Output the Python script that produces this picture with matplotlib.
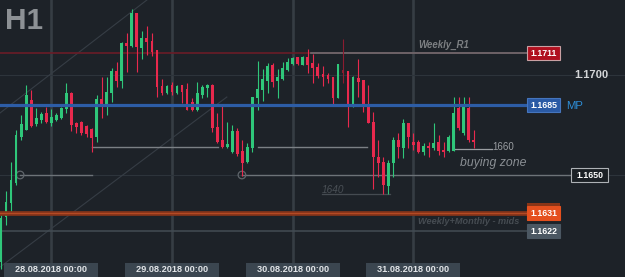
import matplotlib
matplotlib.use('Agg')
import matplotlib.pyplot as plt
import matplotlib.transforms as mtransforms
from matplotlib.patches import Rectangle

plt.rcParams['font.family'] = ['Liberation Sans', 'DejaVu Sans']

### Données (EURUSD H1)
opens = [1.16065, 1.16290, 1.16360, 1.16460, 1.16690, 1.16725, 1.16875, 1.16755, 1.16775, 1.16810,
         1.16760, 1.16775, 1.16785, 1.16830, 1.16910, 1.16760, 1.16765, 1.16745, 1.16730, 1.16690,
         1.16880, 1.16850, 1.16910, 1.17020, 1.16970, 1.17160, 1.17145, 1.17310, 1.17135, 1.17185,
         1.17170, 1.17125, 1.16945, 1.16910, 1.16950, 1.16910, 1.16950, 1.16930, 1.16865, 1.16825,
         1.16900, 1.16935, 1.16950, 1.16740, 1.16675, 1.16640, 1.16615, 1.16720, 1.16620, 1.16565,
         1.16635, 1.16885, 1.16925, 1.16970, 1.17050, 1.16970, 1.16980, 1.17025, 1.17055, 1.17090,
         1.17050, 1.17090, 1.17060, 1.17040, 1.17005, 1.17000, 1.16990, 1.16885, 1.17025, 1.17020,
         1.16855, 1.16985, 1.16975, 1.16845, 1.16765, 1.16590, 1.16565, 1.16445, 1.16560, 1.16675,
         1.16635, 1.16760, 1.16665, 1.16665, 1.16615, 1.16645, 1.16635, 1.16665, 1.16625, 1.16620,
         1.16620, 1.16835, 1.16710, 1.16835, 1.16675]
highs = [1.16300, 1.16420, 1.16565, 1.16725, 1.16800, 1.16950, 1.16925, 1.16835, 1.16815, 1.16840,
         1.16830, 1.16810, 1.16840, 1.16960, 1.16915, 1.16765, 1.16770, 1.16750, 1.16735, 1.16900,
         1.16990, 1.16990, 1.17035, 1.17065, 1.17165, 1.17210, 1.17330, 1.17310, 1.17220, 1.17245,
         1.17210, 1.17125, 1.16980, 1.16950, 1.16965, 1.16950, 1.16950, 1.16960, 1.16885, 1.16965,
         1.16950, 1.16955, 1.16955, 1.16810, 1.16855, 1.16765, 1.16750, 1.16735, 1.16675, 1.16660,
         1.16890, 1.17070, 1.17030, 1.17060, 1.17060, 1.17030, 1.17065, 1.17085, 1.17090, 1.17090,
         1.17095, 1.17130, 1.17105, 1.17060, 1.17045, 1.17010, 1.16990, 1.17055, 1.17180, 1.17020,
         1.16995, 1.17080, 1.16975, 1.16950, 1.16815, 1.16675, 1.16590, 1.16575, 1.16690, 1.16710,
         1.16780, 1.16760, 1.16710, 1.16675, 1.16660, 1.16665, 1.16760, 1.16700, 1.16665, 1.16700,
         1.16890, 1.16890, 1.16890, 1.16890, 1.16725]
lows = [1.16030, 1.16250, 1.16315, 1.16450, 1.16675, 1.16725, 1.16740, 1.16745, 1.16760, 1.16760,
        1.16745, 1.16770, 1.16780, 1.16810, 1.16720, 1.16710, 1.16700, 1.16690, 1.16615, 1.16665,
        1.16785, 1.16800, 1.16865, 1.16940, 1.16935, 1.17015, 1.17140, 1.17015, 1.17080, 1.17100,
        1.17095, 1.16890, 1.16900, 1.16905, 1.16900, 1.16905, 1.16860, 1.16825, 1.16820, 1.16820,
        1.16885, 1.16890, 1.16715, 1.16660, 1.16635, 1.16635, 1.16610, 1.16595, 1.16495, 1.16560,
        1.16615, 1.16825, 1.16870, 1.16910, 1.16940, 1.16885, 1.16975, 1.17020, 1.17050, 1.17050,
        1.17050, 1.17010, 1.16960, 1.16985, 1.16945, 1.16960, 1.16850, 1.16885, 1.16960, 1.16740,
        1.16840, 1.16890, 1.16815, 1.16760, 1.16430, 1.16490, 1.16405, 1.16405, 1.16490, 1.16585,
        1.16585, 1.16635, 1.16625, 1.16610, 1.16600, 1.16590, 1.16625, 1.16600, 1.16590, 1.16615,
        1.16620, 1.16725, 1.16700, 1.16665, 1.16635]
closes = [1.16285, 1.16365, 1.16475, 1.16700, 1.16755, 1.16900, 1.16745, 1.16785, 1.16805, 1.16765,
          1.16790, 1.16800, 1.16835, 1.16910, 1.16750, 1.16740, 1.16710, 1.16705, 1.16685, 1.16880,
          1.16845, 1.16915, 1.17020, 1.16970, 1.17160, 1.17145, 1.17310, 1.17140, 1.17185, 1.17165,
          1.17115, 1.16940, 1.16910, 1.16945, 1.16915, 1.16945, 1.16915, 1.16825, 1.16825, 1.16910,
          1.16940, 1.16950, 1.16735, 1.16665, 1.16640, 1.16655, 1.16720, 1.16605, 1.16560, 1.16640,
          1.16890, 1.16930, 1.16980, 1.17045, 1.16965, 1.16990, 1.17035, 1.17065, 1.17085, 1.17055,
          1.17090, 1.17050, 1.17035, 1.16995, 1.16990, 1.16980, 1.16885, 1.17055, 1.17010, 1.16855,
          1.16990, 1.16965, 1.16850, 1.16760, 1.16590, 1.16560, 1.16450, 1.16560, 1.16675, 1.16640,
          1.16760, 1.16690, 1.16650, 1.16615, 1.16645, 1.16635, 1.16660, 1.16620, 1.16615, 1.16690,
          1.16810, 1.16735, 1.16840, 1.16675, 1.16665]
dim_candles = [68]

# Axe du temps (index de bougie) et niveaux
date_labels = ['28.08.2018 00:00', '29.08.2018 00:00', '30.08.2018 00:00', '31.08.2018 00:00']
date_idx = [10, 34, 58, 82]

weekly_r1 = 1.1711
mp = 1.1685
level_1650 = 1.1650
mids = 1.1631
level_1622 = 1.1622
grid_levels = [1.1700, 1.1650]
axis_label = 1.1700

# Lignes tracées à la main: (index début, index fin, prix)
seg_1650 = [(3.8, 18.1), (47.9, 113.3)]
seg_mid = [(18.1, 43.1, 1.16638), (51.1, 72.8, 1.16640)]
seg_1660 = (90.3, 97.6, 1.16630)
seg_1640 = (63.8, 77.3, 1.16405)
circles_idx = [3.8, 47.9]
trend1 = ([-0.2, 44.9], [1.16040, 1.16890])
trend2 = ([-0.2, 29.0], [1.16810, 1.17375])

#############################################################
##################### Figure ################################
#############################################################
W, H = 625, 277
bg = '#1d2228'
green = '#2fc77a'
red = '#e8294d'

fig = plt.figure(figsize=(W / 100, H / 100), dpi=100, facecolor=bg)
ax = fig.add_axes([0, 0, 1, 1])
ax.set_xlim(-0.2, 124.06)
ax.set_ylim(1.15990, 1.17375)
ax.axis('off')

tr_y = mtransforms.blended_transform_factory(ax.transAxes, ax.transData)
tr_x = mtransforms.blended_transform_factory(ax.transData, ax.transAxes)
px = lambda v: v / W

# Grille
for i in date_idx:
    ax.axvline(i, ymin=14 / H, ymax=1, color='#363d44', lw=1.9, zorder=1)
for g in grid_levels:
    ax.axhline(g, color='#2d343b', lw=0.8, zorder=1)

# Droites de tendance
ax.plot(*trend1, color='#363d45', lw=0.8, zorder=1)
ax.plot(*trend2, color='#363d45', lw=0.8, zorder=1)

# Niveaux horizontaux
ax.axhline(weekly_r1, xmin=0, xmax=px(527), color='#6a1c27', lw=1.2, zorder=2)
ax.axhline(weekly_r1, xmin=px(311), xmax=px(527), color='#6e6e72', lw=1.2, zorder=2)
for a, b in seg_1650:
    ax.plot([a, b], [level_1650, level_1650], color='#6d7378', lw=1.0, zorder=2)
for a, b, p in seg_mid:
    ax.plot([a, b], [p, p], color='#7b8085', lw=1.0, zorder=2)
ax.plot(seg_1660[:2], [seg_1660[2]] * 2, color='#9a9ea2', lw=0.9, zorder=2)
ax.plot(seg_1640[:2], [seg_1640[2]] * 2, color='#454b51', lw=0.9, zorder=2)
ax.scatter(circles_idx, [level_1650] * 2, s=30, facecolors='none', edgecolors='#5f656b', lw=0.9, zorder=2)
ax.axhline(level_1622, xmin=0, xmax=px(527), color='#434c54', lw=1.1, zorder=2)

# Bougies
idx = list(range(len(opens)))
cols = []
for i in idx:
    c = green if closes[i] >= opens[i] else red
    if i in dim_candles:
        c = '#8a1c30'
    cols.append(c)
bottoms = [min(o, c) for o, c in zip(opens, closes)]
heights = [max(abs(c - o), 0.00004) for o, c in zip(opens, closes)]
ax.vlines(idx, lows, highs, colors=cols, lw=0.8, zorder=3)
ax.bar(idx, heights, bottom=bottoms, width=0.55, color=cols, zorder=4)

# Lignes au-dessus des bougies
ax.axhline(mp, xmin=0, xmax=px(527), color='#2d5da6', lw=2.3, zorder=5)
ax.axhline(mids, xmin=0, xmax=px(527), color='#85341a', lw=3.4, zorder=5)
ax.axhline(mids, xmin=0, xmax=px(527), color='#b44a24', lw=0.9, zorder=5)


def price_box(x0, y, w, text, fc, ec):
    ax.add_patch(Rectangle((px(x0), y - 0.00035), px(w), 0.0007, transform=tr_y,
                           fc=fc, ec=ec, lw=0.8, zorder=6))
    ax.text(px(x0 + w / 2), y, text, transform=tr_y, ha='center', va='center',
            color='white', fontsize=6.3, fontweight='bold', zorder=7)


price_box(527, weekly_r1, 33, '1.1711', '#b0101f', '#c9a0a3')
price_box(527, mp, 33, '1.1685', '#2a5aa5', '#4575bd')
price_box(571, level_1650, 37, '1.1650', '#1b2025', '#aeb2b6')
price_box(527, mids, 33, '1.1631', '#e5501e', '#e5501e')
price_box(527, level_1622, 33, '1.1622', '#4b5762', '#4b5762')
ax.add_patch(Rectangle((px(527), mids + 0.00035), px(33), 0.00015, transform=tr_y,
                       fc='#8a3517', ec='none', zorder=6))

# Textes
ax.text(px(591), axis_label, '1.1700', transform=tr_y, ha='center', va='center',
        color='#d4d6d8', fontsize=8, fontweight='bold')
ax.text(px(566), mp - 0.00005, 'MP', transform=tr_y, ha='left', va='center',
        color='#2d8ed8', fontsize=8.2)
ax.text(px(418), 1.17150, 'Weekly_R1', transform=tr_y, ha='left', va='center',
        color='#7c7f82', fontsize=6.9, fontweight='bold', style='italic')
ax.text(px(418), 1.16265, 'Weekly+Monthly - mids', transform=tr_y, ha='left', va='center',
        color='#464c52', fontsize=6.6, fontweight='bold', style='italic')
ax.text(px(460), 1.16560, 'buying zone', transform=tr_y, ha='left', va='center',
        color='#8a8f94', fontsize=8.8, style='italic')
ax.text(seg_1660[1], seg_1660[2] + 0.0001, '1660', ha='left', va='center',
        color='#9a9ea2', fontsize=7)
ax.text(seg_1640[0], seg_1640[2] + 0.00022, '1640', ha='left', va='center',
        color='#4a5056', fontsize=7.2, style='italic')
ax.text(px(5), 1.17270, 'H1', transform=tr_y, ha='left', va='center',
        color='#8d9195', fontsize=21.5, fontweight='bold')

# Dates
for i, lab in zip(date_idx, date_labels):
    ax.add_patch(Rectangle((i - 9.35, 0), 18.7, 14 / H, transform=tr_x,
                           fc='#3b4650', ec='none', zorder=6))
    ax.text(i, 7 / H, lab, transform=tr_x, ha='center', va='center',
            color='#e2e5e8', fontsize=6.6, fontweight='bold', zorder=7)

plt.savefig('out.png', dpi=100, facecolor=bg)
plt.close()
